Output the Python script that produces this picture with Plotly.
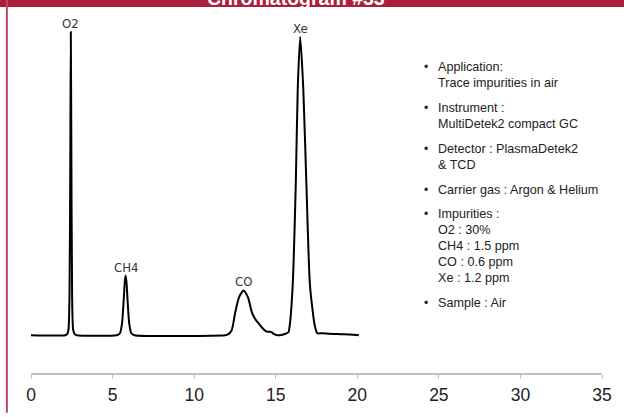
import plotly.graph_objects as go

# chromatogram trace (time in min, signal in arbitrary units)
times = [0, 2.1, 2.22, 2.3, 2.36, 2.41, 2.44, 2.47, 2.52, 2.58, 2.68, 2.8,
         5.25, 5.45, 5.58, 5.68, 5.75, 5.8, 5.85, 5.92, 6.02, 6.15, 6.35,
         11.9, 12.05, 12.3, 12.52, 12.75, 13.03, 13.3, 13.54, 13.75, 14.0, 14.2,
         14.4, 14.6, 14.75, 14.9, 15.1, 15.35, 15.6, 15.78,
         15.86, 16.04, 16.23, 16.35, 16.5, 16.69, 16.88, 17.1, 17.39, 17.55,
         17.86, 18.3, 19.2, 20.1]
signal = [0, 0, 1, 6, 40, 180, 305, 200, 40, 6, 1, 0,
          0, 2, 12, 35, 54, 60, 54, 35, 12, 2, 0,
          0, 0.5, 5, 23, 38, 45, 38, 23, 16, 11, 7,
          4, 3.5, 3, 1, 0, 0.3, 1.5, 3,
          10, 50, 152, 248, 300, 248, 152, 50, 10, 2,
          2, 1.5, 1, 0]

peak_names = ["O2", "CH4", "CO", "Xe"]
peak_times = [2.44, 5.8, 13.03, 16.5]

info_groups = [
    ["Application:", "Trace impurities in air"],
    ["Instrument :", "MultiDetek2 compact GC"],
    ["Detector : PlasmaDetek2", "& TCD"],
    ["Carrier gas : Argon & Helium"],
    ["Impurities :", "O2 : 30%", "CH4 : 1.5 ppm", "CO : 0.6 ppm", "Xe : 1.2 ppm"],
    ["Sample : Air"],
]

title_text = "Chromatogram #33"
RED = "#ac1e3b"

W, H = 624, 417
ML, MR, MT, MB = 31, 20, 22, 42
PW, PH = W - ML - MR, H - MT - MB


def px(x):  # page pixel -> paper x
    return (x - ML) / PW


def py(y):  # page pixel -> paper y
    return (H - MB - y) / PH


fig = go.Figure()
fig.add_trace(go.Scatter(
    x=times, y=signal, mode="lines",
    line=dict(color="black", width=2, shape="spline", smoothing=0.6),
    showlegend=False, hoverinfo="skip",
))

# peak labels
for name, t in zip(peak_names, peak_times):
    h = signal[times.index(t)]
    fig.add_annotation(
        x=t, y=h, text=name, showarrow=False, yanchor="bottom", yshift=-1,
        font=dict(family="Liberation Sans Narrow, DejaVu Sans Condensed, sans-serif",
                  size=13, color="#333"),
    )

# info list on the right
bullet_x, text_x = px(427.7), px(437)
y = 67.5
line_h, group_gap = 16.1, 8.8
for group in info_groups:
    fig.add_annotation(xref="paper", yref="paper", x=bullet_x, y=py(y), text="•",
                       showarrow=False, xanchor="center", yanchor="middle",
                       font=dict(family="Liberation Sans", size=12, color="#222"))
    for line in group:
        fig.add_annotation(xref="paper", yref="paper", x=text_x, y=py(y), text=line,
                           showarrow=False, xanchor="left", yanchor="middle",
                           font=dict(family="Liberation Sans", size=12.6, color="#222"))
        y += line_h
    y += group_gap

# frame: red title bar and left border
fig.add_shape(type="rect", xref="paper", yref="paper",
              x0=px(-5), x1=px(W + 5), y0=py(7), y1=py(-5),
              fillcolor=RED, line_width=0, layer="below")
fig.add_shape(type="line", xref="paper", yref="paper",
              x0=px(6.8), x1=px(6.8), y0=py(415), y1=py(-5),
              line=dict(color="#c0495f", width=2))
fig.add_annotation(xref="paper", yref="paper", x=px(297), y=py(11),
                   text=f"<b>{title_text}</b>", showarrow=False, yanchor="bottom",
                   font=dict(family="Liberation Sans", size=19.5, color="white"))

fig.update_layout(
    width=W, height=H,
    margin=dict(l=ML, r=MR, t=MT, b=MB),
    paper_bgcolor="white", plot_bgcolor="white",
    xaxis=dict(range=[0, 35], dtick=5, showgrid=False, zeroline=False,
               showline=True, linecolor="#bfbfbf", linewidth=1.5,
               ticks="outside", ticklen=4, tickcolor="#bfbfbf",
               tickfont=dict(family="Liberation Sans", size=17.5, color="#222"),
               ticklabelstandoff=1),
    yaxis=dict(range=[-38, 315], visible=False),
)

# drop the default page margin so the figure sits at the window's corner
fig.write_html("out.html", config={"displayModeBar": False},
               post_script="document.body.style.margin='0';"
                           "document.body.style.overflow='hidden';")
